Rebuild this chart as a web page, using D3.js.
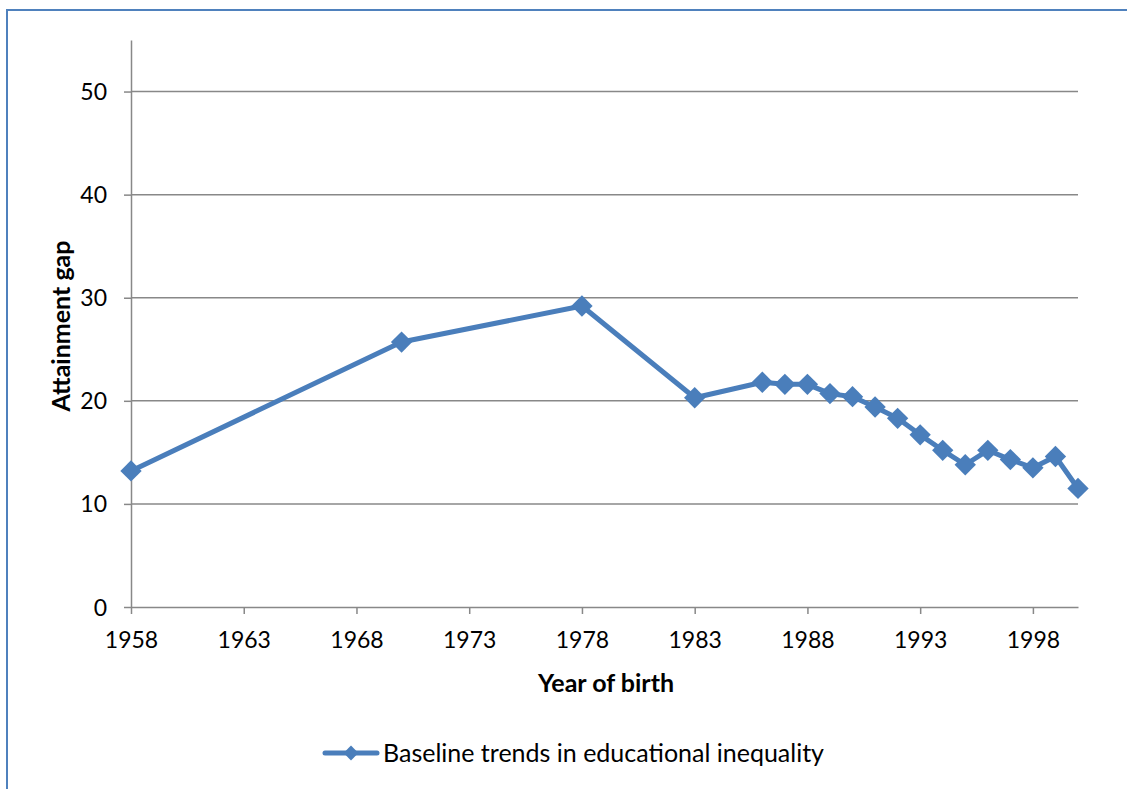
<!DOCTYPE html>
<html>
<head>
<meta charset="utf-8">
<title>Baseline trends in educational inequality</title>
<style type="text/css">
	body{ margin:0; background:#fff; }
	svg text{ font-family: Lato, "Open Sans", sans-serif; fill:#000; }
</style>
</head>
<body>
<div id="board"></div>
<script src="https://cdn.jsdelivr.net/npm/d3@7"></script>
<script>
	// data
	var years = [1958, 1970, 1978, 1983, 1986, 1987, 1988, 1989, 1990, 1991, 1992, 1993, 1994, 1995, 1996, 1997, 1998, 1999, 2000];
	var gap = [13.2, 25.7, 29.2, 20.3, 21.8, 21.6, 21.6, 20.7, 20.4, 19.4, 18.3, 16.7, 15.2, 13.8, 15.2, 14.3, 13.5, 14.6, 11.5];
	var xTicks = [1958, 1963, 1968, 1973, 1978, 1983, 1988, 1993, 1998];
	var yTicks = [0, 10, 20, 30, 40, 50];
	var seriesName = 'Baseline trends in educational inequality';

	var W = 1127, H = 789;
	var blue = '#4a7ebb', grey = '#888888';

	var svg = d3.select('#board').append('svg')
		.attr('width', W).attr('height', H);

	// outer chart border
	svg.append('rect')
		.attr('x', 7).attr('y', 10)
		.attr('width', W + 20).attr('height', H + 20)
		.style('fill', 'none').style('stroke', '#4f81bd').style('stroke-width', 2);

	var x = d3.scaleLinear().domain([1958, 2000]).range([131, 1078]);
	var y = d3.scaleLinear().domain([0, 55]).range([607, 40]);

	// gridlines
	svg.append('g').selectAll('line')
		.data(yTicks.filter(function(d){ return d > 0; }))
		.enter().append('line')
		.attr('x1', x(1958)).attr('x2', x(2000))
		.attr('y1', function(d){ return y(d); })
		.attr('y2', function(d){ return y(d); })
		.style('stroke', grey).style('stroke-width', 1.5);

	// y axis
	var yAxis = svg.append('g')
		.attr('transform', 'translate(' + x(1958) + ',0)')
		.call(d3.axisLeft(y).tickValues(yTicks).tickSize(7).tickPadding(17).tickSizeOuter(0));
	yAxis.select('.domain').style('stroke', grey).style('stroke-width', 1.5);
	yAxis.selectAll('.tick line').style('stroke', grey).style('stroke-width', 1.5);
	yAxis.selectAll('.tick text').style('font-size', '23px').attr('dy', '0.35em');

	// x axis
	var xAxis = svg.append('g')
		.attr('transform', 'translate(0,' + y(0) + ')')
		.call(d3.axisBottom(x).tickValues(xTicks).tickFormat(d3.format('d')).tickSize(7).tickPadding(18).tickSizeOuter(0));
	xAxis.select('.domain').style('stroke', grey).style('stroke-width', 1.5);
	xAxis.selectAll('.tick line').style('stroke', grey).style('stroke-width', 1.5);
	xAxis.selectAll('.tick text').style('font-size', '23px');

	// axis titles
	svg.append('text')
		.attr('x', 606).attr('y', 692)
		.attr('text-anchor', 'middle')
		.style('font-size', '25px').style('font-weight', 'bold')
		.text('Year of birth');
	svg.append('text')
		.attr('transform', 'translate(70,326) rotate(-90)')
		.attr('text-anchor', 'middle')
		.style('font-size', '25px').style('font-weight', 'bold')
		.text('Attainment gap');

	// series
	var pts = years.map(function(d, i){ return { year: d, v: gap[i] }; });
	var line = d3.line()
		.x(function(d){ return x(d.year); })
		.y(function(d){ return y(d.v); });
	svg.append('path')
		.datum(pts)
		.attr('d', line)
		.style('fill', 'none').style('stroke', blue)
		.style('stroke-width', 5).style('stroke-linejoin', 'round');

	var diamond = d3.symbol().type(d3.symbolDiamond2).size(290);
	svg.append('g').selectAll('.dot')
		.data(pts)
		.enter().append('path')
		.attr('class', 'dot')
		.attr('d', diamond)
		.attr('transform', function(d){ return 'translate(' + x(d.year) + ',' + y(d.v) + ')'; })
		.style('fill', blue);

	// legend
	var lg = svg.append('g').attr('transform', 'translate(0,753)');
	lg.append('line')
		.attr('x1', 325).attr('x2', 377).attr('y1', 0).attr('y2', 0)
		.style('stroke', blue).style('stroke-width', 5).style('stroke-linecap', 'round');
	lg.append('path')
		.attr('d', d3.symbol().type(d3.symbolDiamond2).size(140))
		.attr('transform', 'translate(351,0)')
		.style('fill', blue);
	lg.append('text')
		.attr('x', 383).attr('y', 9)
		.style('font-size', '25px')
		.text(seriesName);
</script>
</body>
</html>
